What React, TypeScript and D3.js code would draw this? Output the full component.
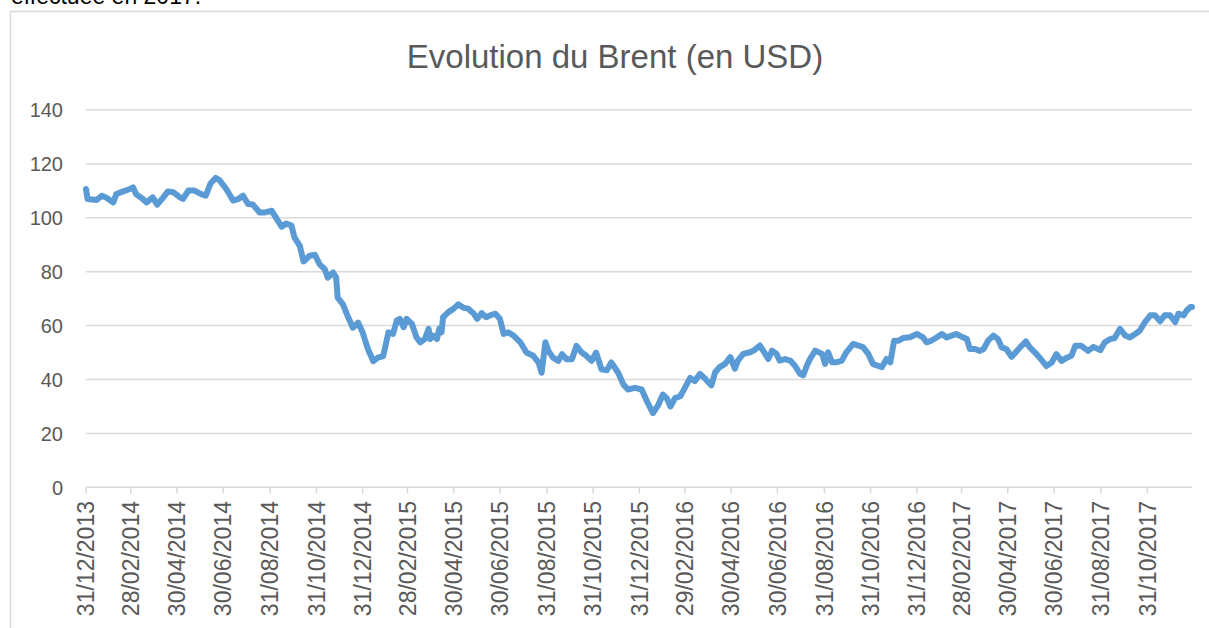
import React, { useEffect, useRef } from 'react';
import * as d3 from 'd3';

// Brent (USD)
const dates = [
  '2013-12-31', '2014-01-02', '2014-01-14', '2014-01-21', '2014-01-27', '2014-02-05', '2014-02-09', '2014-02-18',
  '2014-02-27', '2014-03-03', '2014-03-07', '2014-03-16', '2014-03-21', '2014-03-29', '2014-04-04', '2014-04-12',
  '2014-04-18', '2014-04-25', '2014-05-04', '2014-05-08', '2014-05-15', '2014-05-23', '2014-06-01', '2014-06-07',
  '2014-06-13', '2014-06-20', '2014-06-25', '2014-07-04', '2014-07-13', '2014-07-20', '2014-07-26', '2014-08-02',
  '2014-08-08', '2014-08-17', '2014-08-24', '2014-09-02', '2014-09-08', '2014-09-15', '2014-09-21', '2014-09-28',
  '2014-10-02', '2014-10-09', '2014-10-14', '2014-10-22', '2014-10-29', '2014-11-04', '2014-11-11', '2014-11-15',
  '2014-11-22', '2014-11-26', '2014-11-28', '2014-12-05', '2014-12-12', '2014-12-18', '2014-12-25', '2014-12-31',
  '2015-01-07', '2015-01-14', '2015-01-20', '2015-01-27', '2015-02-03', '2015-02-09', '2015-02-14', '2015-02-18',
  '2015-02-23', '2015-02-27', '2015-03-06', '2015-03-12', '2015-03-17', '2015-03-23', '2015-03-28', '2015-03-30',
  '2015-04-03', '2015-04-08', '2015-04-11', '2015-04-14', '2015-04-16', '2015-04-23', '2015-04-30', '2015-05-06',
  '2015-05-13', '2015-05-19', '2015-05-26', '2015-05-31', '2015-06-06', '2015-06-12', '2015-06-17', '2015-06-24',
  '2015-06-30', '2015-07-05', '2015-07-11', '2015-07-18', '2015-07-27', '2015-08-04', '2015-08-13', '2015-08-20',
  '2015-08-24', '2015-08-29', '2015-09-02', '2015-09-08', '2015-09-15', '2015-09-20', '2015-09-26', '2015-10-03',
  '2015-10-09', '2015-10-16', '2015-10-22', '2015-10-29', '2015-11-04', '2015-11-11', '2015-11-18', '2015-11-24',
  '2015-12-03', '2015-12-10', '2015-12-16', '2015-12-25', '2016-01-03', '2016-01-10', '2016-01-18', '2016-01-25',
  '2016-01-31', '2016-02-05', '2016-02-10', '2016-02-16', '2016-02-23', '2016-02-29', '2016-03-07', '2016-03-13',
  '2016-03-20', '2016-03-27', '2016-04-04', '2016-04-09', '2016-04-15', '2016-04-22', '2016-04-29', '2016-05-05',
  '2016-05-09', '2016-05-16', '2016-05-25', '2016-05-31', '2016-06-07', '2016-06-14', '2016-06-18', '2016-06-23',
  '2016-06-29', '2016-07-03', '2016-07-10', '2016-07-17', '2016-07-23', '2016-07-30', '2016-08-03', '2016-08-08',
  '2016-08-12', '2016-08-19', '2016-08-28', '2016-09-01', '2016-09-05', '2016-09-10', '2016-09-16', '2016-09-23',
  '2016-09-29', '2016-10-08', '2016-10-15', '2016-10-21', '2016-10-28', '2016-11-03', '2016-11-08', '2016-11-15',
  '2016-11-21', '2016-11-26', '2016-12-01', '2016-12-07', '2016-12-13', '2016-12-22', '2016-12-31', '2017-01-08',
  '2017-01-13', '2017-01-19', '2017-01-26', '2017-02-02', '2017-02-08', '2017-02-15', '2017-02-21', '2017-02-28',
  '2017-03-07', '2017-03-11', '2017-03-18', '2017-03-24', '2017-03-29', '2017-04-04', '2017-04-11', '2017-04-17',
  '2017-04-22', '2017-04-28', '2017-05-05', '2017-05-12', '2017-05-18', '2017-05-24', '2017-05-29', '2017-06-05',
  '2017-06-11', '2017-06-20', '2017-06-27', '2017-07-03', '2017-07-10', '2017-07-17', '2017-07-23', '2017-07-28',
  '2017-08-05', '2017-08-14', '2017-08-21', '2017-08-30', '2017-09-05', '2017-09-12', '2017-09-18', '2017-09-25',
  '2017-10-02', '2017-10-08', '2017-10-15', '2017-10-21', '2017-10-28', '2017-11-04', '2017-11-10', '2017-11-17',
  '2017-11-23', '2017-11-30', '2017-12-07', '2017-12-11', '2017-12-18', '2017-12-22', '2017-12-27', '2017-12-29',
];

const brent = [
  110.7, 107.0, 106.6, 108.2, 107.4, 105.7, 108.8, 109.8,
  110.7, 111.3, 108.8, 107.0, 105.7, 107.6, 104.9, 107.6,
  109.8, 109.5, 107.6, 107.0, 110.1, 110.1, 108.8, 108.2,
  112.6, 114.8, 114.0, 110.7, 106.4, 107.0, 108.2, 105.1,
  104.9, 102.0, 102.0, 102.6, 99.9, 96.7, 97.9, 97.1,
  92.7, 89.6, 83.8, 85.9, 86.3, 82.8, 80.9, 77.8,
  79.7, 77.8, 70.4, 67.9, 63.0, 59.2, 61.1, 57.4,
  51.2, 46.8, 48.1, 48.7, 57.5, 56.9, 61.9, 62.5,
  59.4, 62.5, 60.6, 55.6, 53.8, 55.0, 58.8, 55.0,
  56.3, 55.0, 58.8, 57.5, 63.1, 65.0, 66.3, 67.9,
  66.6, 66.3, 64.6, 62.5, 64.6, 63.1, 63.8, 64.4,
  62.5, 56.9, 57.5, 56.3, 53.8, 50.0, 48.8, 46.3,
  42.5, 53.8, 50.6, 48.1, 46.9, 49.4, 47.5, 47.5,
  52.5, 50.0, 48.8, 46.9, 50.0, 43.8, 43.4, 46.3,
  42.5, 38.1, 36.3, 36.9, 36.3, 31.9, 27.5, 30.6,
  34.4, 33.1, 30.0, 33.1, 33.8, 36.9, 40.6, 39.4,
  42.1, 40.2, 37.8, 42.7, 44.6, 45.8, 48.3, 44.0,
  47.0, 49.5, 50.1, 51.0, 52.6, 49.5, 47.6, 50.7,
  49.5, 47.0, 47.6, 47.0, 45.2, 42.1, 41.5, 45.2,
  47.6, 50.7, 49.5, 45.8, 50.1, 46.4, 46.4, 47.0,
  50.1, 53.2, 52.6, 52.0, 49.5, 45.8, 45.2, 44.6,
  47.6, 46.4, 54.4, 54.4, 55.4, 55.7, 56.9, 55.6,
  53.8, 54.4, 55.6, 56.9, 55.6, 56.3, 56.9, 55.9,
  55.0, 51.3, 51.3, 50.6, 51.3, 54.4, 56.3, 55.0,
  51.9, 51.3, 48.4, 50.6, 52.5, 54.1, 51.9, 50.0,
  48.1, 45.0, 46.3, 49.4, 46.9, 48.1, 48.8, 52.5,
  52.5, 50.6, 52.1, 50.9, 53.8, 55.0, 55.4, 58.8,
  56.3, 55.6, 56.9, 58.1, 61.3, 63.8, 63.8, 61.6,
  63.8, 63.8, 61.3, 64.4, 63.8, 65.6, 66.9, 66.9,
];

const yTicks = [0, 20, 40, 60, 80, 100, 120, 140];

const xTickLabels = [
  '31/12/2013', '28/02/2014', '30/04/2014', '30/06/2014', '31/08/2014', '31/10/2014',
  '31/12/2014', '28/02/2015', '30/04/2015', '30/06/2015', '31/08/2015', '31/10/2015',
  '31/12/2015', '29/02/2016', '30/04/2016', '30/06/2016', '31/08/2016', '31/10/2016',
  '31/12/2016', '28/02/2017', '30/04/2017', '30/06/2017', '31/08/2017', '31/10/2017',
];

const App = () => {
  const svgRef = useRef<SVGSVGElement>(null);

  useEffect(() => {
    const width = 1209;
    const height = 628;
    const plot = { left: 86, right: 1192, top: 110, bottom: 487.3 };
    const grey = '#d9d9d9';
    const textColor = '#595959';
    const font = "'Liberation Sans', Arial, sans-serif";

    const svg = d3.select(svgRef.current)
      .attr('width', width)
      .attr('height', height);

    svg.selectAll('*').remove();

    const parseIso = d3.timeParse('%Y-%m-%d');
    const parseFr = d3.timeParse('%d/%m/%Y');
    const data = dates.map((d, i) => ({ date: parseIso(d) as Date, value: brent[i] }));

    const xScale = d3.scaleTime()
      .domain([parseIso('2013-12-31') as Date, parseIso('2017-12-29') as Date])
      .range([plot.left, plot.right]);

    const yScale = d3.scaleLinear()
      .domain([0, 140])
      .range([plot.bottom, plot.top]);

    // texte du document au-dessus, coupé par le bord haut comme dans l'original
    svg.append('text')
      .attr('x', 11)
      .attr('y', 4)
      .attr('font-family', font)
      .attr('font-size', 23)
      .attr('fill', '#000')
      .text('effectuée en 2017.');

    // cadre du graphique
    svg.append('rect')
      .attr('x', 10.5)
      .attr('y', 11.5)
      .attr('width', 1300)
      .attr('height', 700)
      .attr('fill', '#fff')
      .attr('stroke', grey)
      .attr('stroke-width', 1.5);

    svg.append('text')
      .attr('x', 615)
      .attr('y', 68)
      .attr('text-anchor', 'middle')
      .attr('font-family', font)
      .attr('font-size', 33)
      .attr('fill', textColor)
      .text('Evolution du Brent (en USD)');

    // grille + axe Y
    const yAxis = svg.append('g');
    yAxis.selectAll('line')
      .data(yTicks)
      .join('line')
      .attr('x1', plot.left)
      .attr('x2', plot.right)
      .attr('y1', d => yScale(d))
      .attr('y2', d => yScale(d))
      .attr('stroke', grey)
      .attr('stroke-width', 1.5);

    yAxis.selectAll('text')
      .data(yTicks)
      .join('text')
      .attr('x', 63)
      .attr('y', d => yScale(d))
      .attr('dy', '0.36em')
      .attr('text-anchor', 'end')
      .attr('font-family', font)
      .attr('font-size', 20)
      .attr('fill', textColor)
      .text(d => d);

    // axe X (dates)
    const xAxis = svg.append('g');
    const ticks = xAxis.selectAll('g')
      .data(xTickLabels)
      .join('g')
      .attr('transform', d => `translate(${xScale(parseFr(d) as Date)},0)`);

    ticks.append('line')
      .attr('y1', plot.bottom)
      .attr('y2', plot.bottom + 6)
      .attr('stroke', grey)
      .attr('stroke-width', 1.5);

    ticks.append('text')
      .attr('transform', 'rotate(-90)')
      .attr('x', -501)
      .attr('y', 0)
      .attr('dy', '0.36em')
      .attr('text-anchor', 'end')
      .attr('font-family', font)
      .attr('font-size', 23)
      .attr('fill', textColor)
      .text(d => d);

    const myLine = d3.line<{ date: Date; value: number }>()
      .x(d => xScale(d.date))
      .y(d => yScale(d.value));

    svg.append('path')
      .datum(data)
      .attr('d', myLine)
      .attr('fill', 'none')
      .attr('stroke', '#5b9bd5')
      .attr('stroke-width', 6)
      .attr('stroke-linejoin', 'round')
      .attr('stroke-linecap', 'round');
  }, []);

  return (
    <svg ref={svgRef} style={{ position: 'absolute', left: 0, top: 0, display: 'block' }} />
  );
};

export default App;
